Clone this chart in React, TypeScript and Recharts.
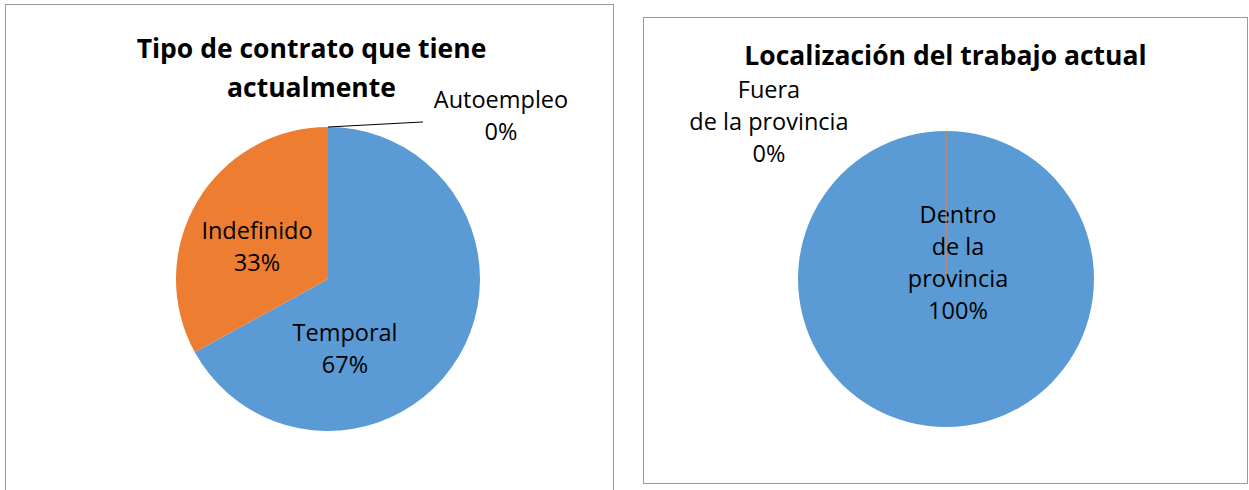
import React from "react";
import { PieChart, Pie, Cell } from "recharts";

// ---- Data ----
const contractCategories = ["Temporal", "Indefinido", "Autoempleo"];
const contractValues = [67, 33, 0];
const contractLabelLines = [["Temporal"], ["Indefinido"], ["Autoempleo"]];

const locationCategories = ["Dentro de la provincia", "Fuera de la provincia"];
const locationValues = [100, 0];
const locationLabelLines = [["Dentro", "de la", "provincia"], ["Fuera", "de la provincia"]];

const contractTitle = ["Tipo de contrato que tiene", "actualmente"];
const locationTitle = ["Localización del trabajo actual"];

const BLUE = "#5B9BD5";
const ORANGE = "#ED7D31";
const sliceColors = [BLUE, ORANGE, "#A5A5A5"];

const FONT = "'Open Sans', 'Noto Sans', sans-serif";
const LABEL_SIZE = 23.5;
const LINE_H = 32;
const RAD = Math.PI / 180;

const contractData = contractCategories.map((name, i) => ({ name, value: contractValues[i], lines: contractLabelLines[i] }));
const locationData = locationCategories.map((name, i) => ({ name, value: locationValues[i], lines: locationLabelLines[i] }));

// label block centers, as fractions of outer radius from pie center
const contractLabelPos = [
  [0.112, 0.454],
  [-0.467, -0.214],
  [1.138, -1.076],
];
const locationLabelPos = [
  [0.081, -0.118],
  [-1.196, -1.068],
];

function makeLabel(pos: number[][], mode: "leader" | "zeroLine") {
  return (props: any) => {
    const { cx, cy, outerRadius, index, percent, payload, midAngle, value } = props;
    const p = pos[index];
    const x = cx + p[0] * outerRadius;
    const lines: string[] = [...(payload.lines || [payload.name]), `${Math.round(percent * 100)}%`];
    const y0 = cy + p[1] * outerRadius - ((lines.length - 1) * LINE_H) / 2;
    const edgeX = cx + outerRadius * Math.cos(-midAngle * RAD);
    const edgeY = cy + outerRadius * Math.sin(-midAngle * RAD);
    return (
      <g key={`lbl-${index}`}>
        {mode === "leader" && value === 0 ? (
          <line
            x1={edgeX}
            y1={edgeY}
            x2={cx + 0.625 * outerRadius}
            y2={cy - 1.033 * outerRadius}
            stroke="#000"
            strokeWidth={1}
          />
        ) : null}
        {mode === "zeroLine" && value === 0 ? (
          <line x1={cx} y1={cy} x2={edgeX} y2={edgeY} stroke={sliceColors[index]} strokeWidth={1.2} />
        ) : null}
        <text
          x={x}
          y={y0}
          textAnchor="middle"
          fill="#000"
          style={{ fontFamily: FONT, fontSize: LABEL_SIZE }}
        >
          {lines.map((l, i) => (
            <tspan key={i} x={x} y={y0 + i * LINE_H} dominantBaseline="central">
              {l}
            </tspan>
          ))}
        </text>
      </g>
    );
  };
}

const panelStyle: React.CSSProperties = {
  position: "absolute",
  border: "1px solid #9a9a9a",
  background: "#fff",
  boxSizing: "border-box",
};

const titleStyle: React.CSSProperties = {
  position: "absolute",
  left: 0,
  right: 0,
  textAlign: "center",
  fontFamily: FONT,
  fontWeight: 700,
  fontSize: 26.5,
  color: "#000",
  lineHeight: "39px",
};

export default function App() {
  return (
    <div style={{ position: "absolute", left: 0, top: 0, width: 1249, height: 490, background: "#fff", overflow: "hidden" }}>
      {/* Left panel */}
      <div style={{ ...panelStyle, left: 5, top: 4, width: 609, height: 500 }}>
        <div style={{ ...titleStyle, top: 24, left: 4, right: 0 }}>
          {contractTitle.map((t, i) => (
            <div key={i}>{t}</div>
          ))}
        </div>
        <div style={{ position: "absolute", left: 0, top: 0 }}>
          <PieChart width={607} height={490}>
            <Pie
              data={contractData}
              dataKey="value"
              nameKey="name"
              cx={317}
              cy={269}
              outerRadius={152}
              startAngle={90}
              endAngle={-270}
              stroke="none"
              isAnimationActive={false}
              labelLine={false}
              label={makeLabel(contractLabelPos, "leader")}
            >
              {contractData.map((d, i) => (
                <Cell key={d.name} fill={sliceColors[i]} stroke="none" />
              ))}
            </Pie>
          </PieChart>
        </div>
      </div>

      {/* Right panel */}
      <div style={{ ...panelStyle, left: 643, top: 17, width: 605, height: 467 }}>
        <div style={{ ...titleStyle, top: 25, lineHeight: "24px" }}>
          {locationTitle.map((t, i) => (
            <div key={i}>{t}</div>
          ))}
        </div>
        <div style={{ position: "absolute", left: 0, top: 0 }}>
          <PieChart width={603} height={465}>
            <Pie
              data={locationData}
              dataKey="value"
              nameKey="name"
              cx={297}
              cy={256}
              outerRadius={148}
              startAngle={90}
              endAngle={-270}
              stroke="none"
              isAnimationActive={false}
              labelLine={false}
              label={makeLabel(locationLabelPos, "zeroLine")}
            >
              {locationData.map((d, i) => (
                <Cell key={d.name} fill={sliceColors[i]} stroke="none" />
              ))}
            </Pie>
          </PieChart>
        </div>
      </div>
    </div>
  );
}
